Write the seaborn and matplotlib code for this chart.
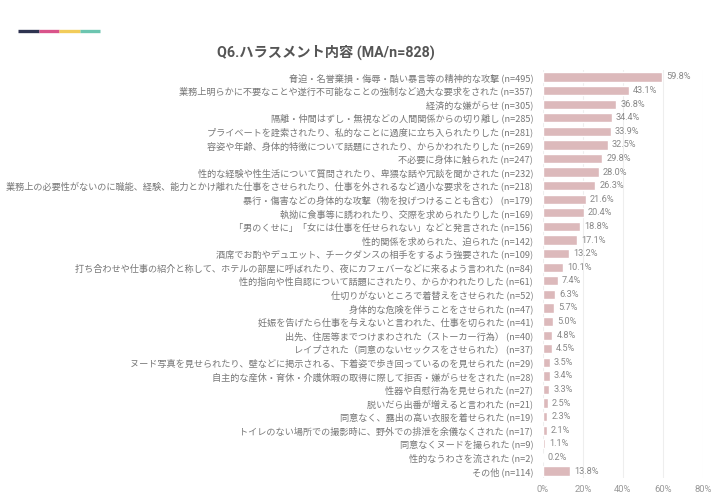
import matplotlib
matplotlib.use("Agg")
import matplotlib.pyplot as plt
import matplotlib.lines as mlines
import pandas as pd
import seaborn as sns

# ----------------------------------------------------------------------------------------------------------------------
# Data
items = [
    "脅迫・名誉棄損・侮辱・酷い暴言等の精神的な攻撃",
    "業務上明らかに不要なことや遂行不可能なことの強制など過大な要求をされた",
    "経済的な嫌がらせ",
    "隔離・仲間はずし・無視などの人間関係からの切り離し",
    "プライベートを詮索されたり、私的なことに過度に立ち入られたりした",
    "容姿や年齢、身体的特徴について話題にされたり、からかわれたりした",
    "不必要に身体に触られた",
    "性的な経験や性生活について質問されたり、卑猥な話や冗談を聞かされた",
    "業務上の必要性がないのに職能、経験、能力とかけ離れた仕事をさせられたり、仕事を外されるなど過小な要求をされた",
    "暴行・傷害などの身体的な攻撃（物を投げつけることも含む）",
    "執拗に食事等に誘われたり、交際を求められたりした",
    "「男のくせに」「女には仕事を任せられない」などと発言された",
    "性的関係を求められた、迫られた",
    "酒席でお酌やデュエット、チークダンスの相手をするよう強要された",
    "打ち合わせや仕事の紹介と称して、ホテルの部屋に呼ばれたり、夜にカフェバーなどに来るよう言われた",
    "性的指向や性自認について話題にされたり、からかわれたりした",
    "仕切りがないところで着替えをさせられた",
    "身体的な危険を伴うことをさせられた",
    "妊娠を告げたら仕事を与えないと言われた、仕事を切られた",
    "出先、住居等までつけまわされた（ストーカー行為）",
    "レイプされた（同意のないセックスをさせられた）",
    "ヌード写真を見せられたり、壁などに掲示される、下着姿で歩き回っているのを見せられた",
    "自主的な産休・育休・介護休暇の取得に際して拒否・嫌がらせをされた",
    "性器や自慰行為を見せられた",
    "脱いだら出番が増えると言われた",
    "同意なく、露出の高い衣服を着せられた",
    "トイレのない場所での撮影時に、野外での排泄を余儀なくされた",
    "同意なくヌードを撮られた",
    "性的なうわさを流された",
    "その他",
]
counts = [495, 357, 305, 285, 281, 269, 247, 232, 218, 179, 169, 156, 142, 109, 84,
          61, 52, 47, 41, 40, 37, 29, 28, 27, 21, 19, 17, 9, 2, 114]
percents = [59.8, 43.1, 36.8, 34.4, 33.9, 32.5, 29.8, 28.0, 26.3, 21.6, 20.4, 18.8, 17.1, 13.2, 10.1,
            7.4, 6.3, 5.7, 5.0, 4.8, 4.5, 3.5, 3.4, 3.3, 2.5, 2.3, 2.1, 1.1, 0.2, 13.8]
x_ticks = [0, 20, 40, 60, 80]
title = "Q6.ハラスメント内容 (MA/n=828)"

# ----------------------------------------------------------------------------------------------------------------------
sns.set_theme(style="white")
plt.rcParams["font.family"] = ["Noto Sans CJK JP", "DejaVu Sans"]

df = pd.DataFrame({
    "label": [f"{name} (n={n})" for name, n in zip(items, counts)],
    "pct": percents,
})

fig = plt.figure(figsize=(7.2, 5.01), dpi=100)
ax = fig.add_axes([0.754, 0.0463, 0.222, 0.8136])

sns.barplot(data=df, x="pct", y="label", color="#e2b3b6", width=0.68, ax=ax, zorder=2)

# Value labels next to each bar
for i, p in enumerate(df["pct"]):
    ax.text(p + 2.0, i, f"{p:.1f}%", va="center", ha="left", fontsize=6.6, color="#888888",
            family=["Roboto", "DejaVu Sans"])

ax.set_xlim(0, 80)
ax.set_xticks(x_ticks)
ax.set_xticklabels([f"{t}%" for t in x_ticks], family=["Roboto", "DejaVu Sans"])
ax.tick_params(axis="x", labelsize=6.8, colors="#999999", length=0, pad=5)
ax.tick_params(axis="y", labelsize=6.6, colors="#777777", length=0, pad=7)
ax.set_xlabel("")
ax.set_ylabel("")
ax.grid(axis="x", color="#eeeeee", linewidth=0.8, zorder=0)
for side in ax.spines.values():
    side.set_visible(False)

fig.text(0.452, 0.896, title, ha="center", va="center", fontsize=10.3, color="#555555",
         fontweight="bold", family=["Roboto", "Noto Sans CJK JP"])

# Decorative colour strip in the top-left corner
strip = ["#2e3350", "#d9538a", "#f2cc5a", "#6cc5b0"]
for k, c in enumerate(strip):
    x0 = 18 / 720 + k * 20.5 / 720
    fig.add_artist(mlines.Line2D([x0, x0 + 20.5 / 720], [1 - 31 / 501] * 2, color=c, linewidth=2.4,
                                 solid_capstyle="butt"))

fig.savefig("out.png", dpi=100)
